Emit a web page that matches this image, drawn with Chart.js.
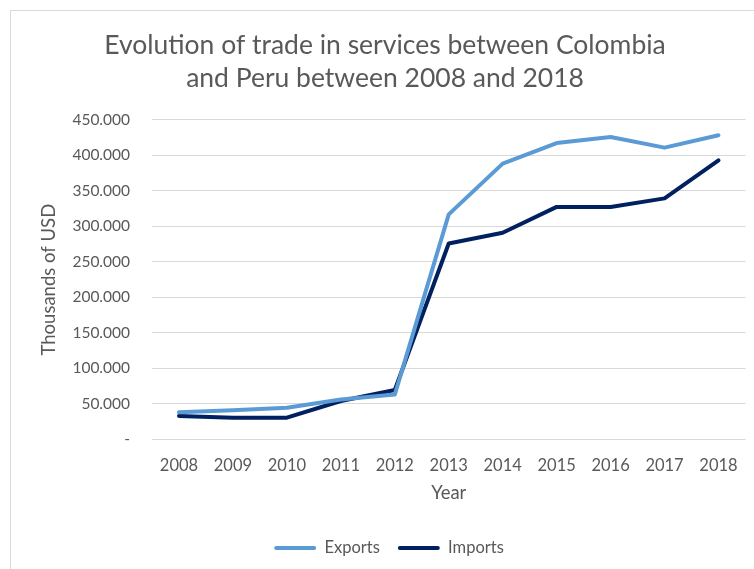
<!DOCTYPE html>
<html>
<head>
<meta charset="utf-8">
<title>Trade in services Colombia - Peru</title>
<script src="https://cdn.jsdelivr.net/npm/chart.js@4.4.0/dist/chart.umd.min.js"></script>
<style>
  html, body { margin: 0; padding: 0; background: #fff; overflow: hidden; }
  .frame { position: absolute; left: 10px; top: 10px; width: 800px; height: 600px; border: 1px solid #d9d9d9; }
  #trade-chart { position: absolute; left: 0; top: 0; }
</style>
</head>
<body>
<div class="frame"></div>
<canvas id="trade-chart" width="754" height="569"></canvas>
<script>
const years = ['2008', '2009', '2010', '2011', '2012', '2013', '2014', '2015', '2016', '2017', '2018'];
// thousands of USD
const exportsValues = [38000, 41000, 44500, 56000, 63000, 317000, 388500, 417500, 426000, 411000, 428500];
const importsValues = [33000, 30500, 30500, 54000, 69500, 276000, 291000, 327500, 327500, 339500, 393000];
const titleLines = ['Evolution of trade in services between Colombia', 'and Peru between 2008 and 2018'];

const textColor = '#595959';
const fontFamily = 'Lato, "Open Sans", sans-serif';

// 450000 -> "450.000", zero shown as a dash
function formatThousands(value) {
  if (value === 0) return '-';
  return String(value).replace(/\B(?=(\d{3})+(?!\d))/g, '.');
}

// the title and legend sit centred on the outer frame, a bit right of the canvas centre
const shiftBoxes = {
  id: 'shiftBoxes',
  afterLayout(chart) {
    if (chart.titleBlock) { chart.titleBlock.left += 12; chart.titleBlock.right += 12; }
    if (chart.legend) { chart.legend.left += 16; chart.legend.right += 16; }
  }
};

const ctx = document.getElementById('trade-chart');
new Chart(ctx, {
  type: 'line',
  data: {
    labels: years,
    datasets: [
      {
        label: 'Exports',
        data: exportsValues,
        borderColor: '#5b9bd5',
        backgroundColor: '#5b9bd5',
        borderWidth: 4,
        pointRadius: 0,
        borderCapStyle: 'round',
        borderJoinStyle: 'round',
        tension: 0,
      },
      {
        label: 'Imports',
        data: importsValues,
        borderColor: '#002060',
        backgroundColor: '#002060',
        borderWidth: 4,
        pointRadius: 0,
        borderCapStyle: 'round',
        borderJoinStyle: 'round',
        tension: 0,
      },
    ],
  },
  options: {
    responsive: false,
    animation: false,
    layout: { padding: { left: 0, right: 8, top: 0, bottom: 2.75 } },
    plugins: {
      tooltip: { enabled: false },
      title: {
        display: true,
        text: titleLines,
        color: textColor,
        font: { family: fontFamily, size: 26.5, weight: 'normal', lineHeight: 1.245 },
        padding: { top: 28.5, bottom: 25.5 },
      },
      legend: {
        position: 'bottom',
        labels: {
          color: textColor,
          font: { family: fontFamily, size: 16.5 },
          boxWidth: 42,
          boxHeight: 4,
          padding: 18,
          generateLabels(chart) {
            const items = Chart.defaults.plugins.legend.labels.generateLabels(chart);
            return items.map((item) => ({ ...item, lineWidth: 0, borderRadius: 2 }));
          },
        },
      },
    },
    scales: {
      x: {
        offset: true,
        grid: { display: false, drawTicks: false },
        border: { display: false },
        ticks: {
          color: textColor,
          font: { family: fontFamily, size: 16.5 },
          padding: 16,
          maxRotation: 0,
        },
        title: {
          display: true,
          text: 'Year',
          color: textColor,
          font: { family: fontFamily, size: 18.5 },
          padding: { top: 4, bottom: 17.7 },
        },
        afterFit(scale) { scale.height = 82.45; },
      },
      y: {
        min: 0,
        max: 450000,
        grid: { color: '#d9d9d9', lineWidth: 1, drawTicks: false },
        border: { display: false },
        ticks: {
          stepSize: 50000,
          color: textColor,
          font: { family: fontFamily, size: 15.5 },
          padding: 22,
          callback: (value) => formatThousands(value),
        },
        title: {
          display: true,
          text: 'Thousands of USD',
          color: textColor,
          font: { family: fontFamily, size: 18.5 },
          padding: { top: 37.9, bottom: 0 },
        },
        afterFit(scale) { scale.width = 152; },
      },
    },
  },
  plugins: [shiftBoxes],
});
</script>
</body>
</html>
